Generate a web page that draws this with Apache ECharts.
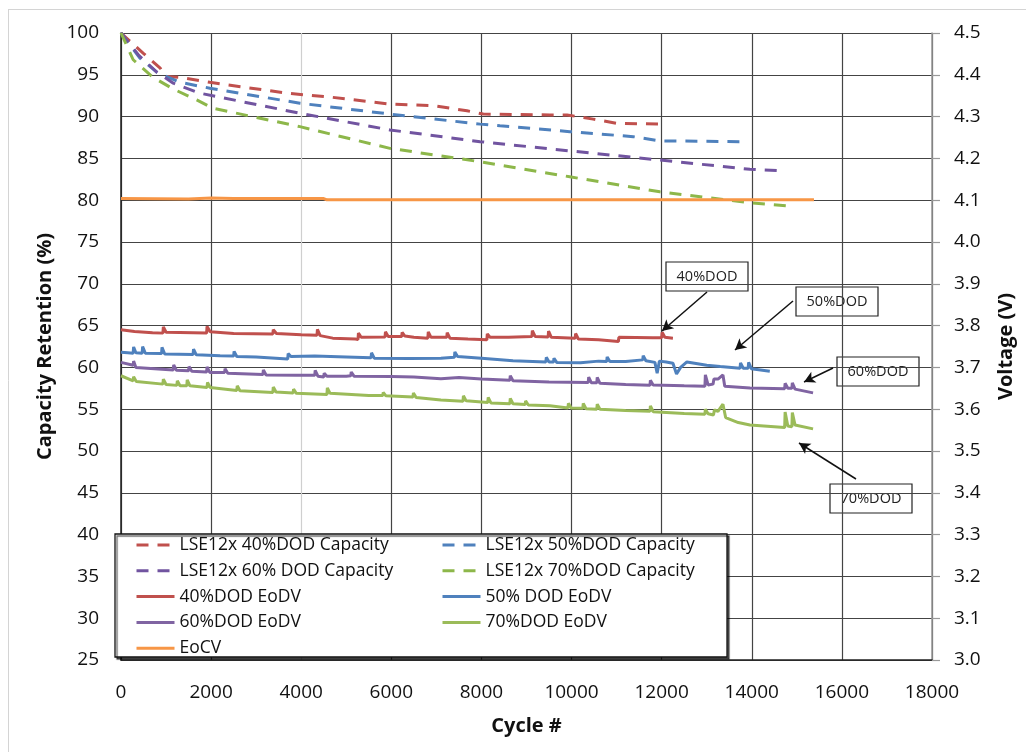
<!DOCTYPE html>
<html>
<head>
<meta charset="utf-8">
<script src="https://cdn.jsdelivr.net/npm/echarts@6/dist/echarts.min.js"></script>
<style>
  html, body { margin: 0; padding: 0; background: #fff; }
  #chart { width: 1026px; height: 752px; }
</style>
</head>
<body>
<div id="chart"></div>
<script>
// ---- data ----
// capacity retention (%), left axis
const cap40Cycles = [0, 490, 870, 1000, 1310, 1970, 3680, 4700, 5970, 6930, 7680, 8040, 9520, 9900, 10480, 11000, 12000];
const cap40Values = [100, 97.6, 95.8, 94.8, 94.7, 94.1, 92.8, 92.3, 91.5, 91.3, 90.7, 90.3, 90.2, 90.2, 89.7, 89.2, 89.1];
const cap50Cycles = [0, 420, 800, 1310, 1970, 3970, 5970, 7970, 8410, 9960, 11370, 11960, 13800];
const cap50Values = [100, 97.0, 95.3, 94.1, 93.4, 91.6, 90.3, 89.1, 88.9, 88.2, 87.6, 87.1, 87.0];
const cap60Cycles = [0, 400, 800, 1160, 1750, 3970, 5970, 7970, 9960, 11960, 13960, 14730];
const cap60Values = [100, 97.3, 95.3, 94.0, 92.8, 90.4, 88.4, 87.0, 85.9, 84.8, 83.7, 83.5];
const cap70Cycles = [0, 270, 710, 1160, 1680, 2040, 3970, 5970, 7970, 9960, 11960, 13960, 14850];
const cap70Values = [100, 96.8, 94.7, 93.3, 92.0, 91.0, 88.8, 86.2, 84.6, 82.8, 81.0, 79.7, 79.3];

// end of discharge / charge voltage (V), right axis
const eodv40Cycles = [0, 300, 700, 930, 940, 1000, 1900, 1910, 1980, 2500, 3370, 3380, 3450, 4000, 4350, 4360, 4420, 4700, 5200, 5260, 5270, 5330,
  5860, 5870, 5930, 6230, 6240, 6300, 6500, 6810, 6820, 6880, 7230, 7240, 7300, 7700, 8120, 8130, 8190, 8600, 9120, 9130, 9190,
  9480, 9490, 9550, 10080, 10090, 10150, 10600, 11040, 11050, 11800, 12000, 12010, 12070, 12250];
const eodv40Values = [3.790, 3.786, 3.783, 3.782, 3.797, 3.784, 3.782, 3.798, 3.785, 3.781, 3.780, 3.790, 3.781, 3.778, 3.777, 3.791, 3.776, 3.770, 3.768, 3.767, 3.782, 3.772,
  3.773, 3.785, 3.774, 3.774, 3.784, 3.775, 3.772, 3.770, 3.785, 3.772, 3.772, 3.783, 3.770, 3.768, 3.766, 3.780, 3.772, 3.772, 3.774, 3.788, 3.774,
  3.773, 3.787, 3.772, 3.770, 3.781, 3.768, 3.766, 3.762, 3.772, 3.771, 3.771, 3.784, 3.772, 3.770];

const eodv50Cycles = [0, 150, 270, 280, 330, 470, 480, 540, 900, 910, 970, 1600, 1610, 1670, 2200, 2500, 2510, 2570, 3000, 3700, 3710, 3770,
  4300, 5000, 5550, 5560, 5620, 6400, 7100, 7400, 7410, 7470, 8000, 8700, 9430, 9440, 9500, 9600, 9610, 9670, 10200, 10600,
  10780, 10790, 10850, 11200, 11580, 11590, 11650, 11850, 11900, 11950, 12100, 12250, 12330, 12420, 12560, 13000, 13300, 13740, 13750, 13810,
  13920, 13930, 13990, 14400];
const eodv50Values = [3.736, 3.735, 3.734, 3.749, 3.735, 3.734, 3.750, 3.734, 3.733, 3.748, 3.732, 3.731, 3.744, 3.730, 3.728, 3.727, 3.738, 3.726, 3.725, 3.720, 3.733, 3.726,
  3.727, 3.725, 3.723, 3.735, 3.722, 3.721, 3.722, 3.724, 3.737, 3.726, 3.722, 3.716, 3.713, 3.724, 3.713, 3.713, 3.722, 3.712, 3.711, 3.715,
  3.714, 3.725, 3.714, 3.714, 3.718, 3.728, 3.716, 3.712, 3.686, 3.715, 3.713, 3.710, 3.684, 3.700, 3.713, 3.705, 3.702, 3.698, 3.711, 3.698,
  3.698, 3.712, 3.697, 3.691];

const eodv60Cycles = [0, 270, 280, 330, 1160, 1170, 1230, 1500, 1510, 1570, 1900, 1910, 1970, 2300, 2310, 2370, 3150, 3160, 3220, 3900,
  4300, 4310, 4370, 4500, 4510, 4570, 5000, 5100, 5110, 5170, 6000, 6500, 7100, 7500, 8000, 8630, 8640, 8700, 9500,
  10370, 10380, 10440, 10560, 10570, 10630, 11200, 11740, 11750, 11810, 12500, 12960, 12970, 13030, 13140, 13160, 13250, 13360, 13400,
  13960, 14730, 14740, 14800, 14890, 14900, 14960, 15360];
const eodv60Values = [3.712, 3.705, 3.715, 3.700, 3.694, 3.706, 3.693, 3.692, 3.702, 3.691, 3.689, 3.701, 3.688, 3.688, 3.697, 3.686, 3.683, 3.694, 3.682, 3.681,
  3.681, 3.693, 3.679, 3.677, 3.686, 3.679, 3.679, 3.680, 3.689, 3.679, 3.678, 3.677, 3.673, 3.676, 3.672, 3.669, 3.680, 3.668, 3.665,
  3.664, 3.677, 3.663, 3.663, 3.676, 3.662, 3.659, 3.657, 3.669, 3.658, 3.656, 3.655, 3.682, 3.658, 3.660, 3.672, 3.672, 3.682, 3.655,
  3.651, 3.649, 3.662, 3.650, 3.650, 3.663, 3.648, 3.639];

const eodv70Cycles = [0, 270, 280, 340, 930, 940, 1000, 1240, 1250, 1310, 1460, 1470, 1530, 1910, 1920, 1980, 2570, 2580, 2640,
  3370, 3380, 3440, 3820, 3830, 3890, 4570, 4580, 4640, 5500, 5810, 5820, 5880, 6480, 6490, 6550, 7100, 7590, 7600, 7660,
  8140, 8150, 8210, 8630, 8640, 8700, 8970, 8980, 9040, 9520, 9920, 9930, 9990, 10250, 10260, 10320, 10560, 10570, 10630, 11200,
  11740, 11750, 11810, 12500, 12960, 12970, 13030, 13150, 13170, 13250, 13360, 13420, 13700, 13960, 14500, 14730, 14740, 14800,
  14890, 14900, 14960, 15360];
const eodv70Values = [3.680, 3.668, 3.678, 3.666, 3.660, 3.672, 3.659, 3.657, 3.668, 3.656, 3.656, 3.670, 3.656, 3.652, 3.664, 3.652, 3.645, 3.656, 3.644,
  3.640, 3.653, 3.641, 3.639, 3.648, 3.638, 3.635, 3.651, 3.638, 3.633, 3.633, 3.640, 3.632, 3.629, 3.639, 3.628, 3.622, 3.619, 3.632, 3.620,
  3.616, 3.628, 3.615, 3.613, 3.626, 3.613, 3.611, 3.620, 3.610, 3.608, 3.603, 3.614, 3.603, 3.602, 3.614, 3.601, 3.600, 3.612, 3.600, 3.597,
  3.595, 3.608, 3.594, 3.590, 3.588, 3.600, 3.589, 3.586, 3.598, 3.595, 3.612, 3.580, 3.568, 3.562, 3.558, 3.556, 3.593, 3.560,
  3.558, 3.592, 3.562, 3.553];

const eocvCycles = [0, 1500, 2000, 2500, 3000, 4500, 4570, 15380];
const eocvValues = [4.104, 4.103, 4.105, 4.104, 4.104, 4.104, 4.101, 4.101];

// tick settings
const xTicks = { min: 0, max: 18000, interval: 2000 };
const capTicks = { min: 25, max: 100, interval: 5 };
const voltTicks = { min: 3.0, max: 4.5, interval: 0.1 };

const FONT = '"Open Sans", "DejaVu Sans", sans-serif';

function pairs(xs, ys) {
  return xs.map((x, i) => [x, ys[i]]);
}

const chart = echarts.init(document.getElementById('chart'));

function capSeries(name, color, xs, ys) {
  return {
    name: name,
    type: 'line',
    yAxisIndex: 0,
    data: pairs(xs, ys),
    symbol: 'none',
    color: color,
    lineStyle: { width: 3, type: [12, 9], color: color },
    z: 3
  };
}

function voltSeries(name, color, xs, ys, width) {
  return {
    name: name,
    type: 'line',
    yAxisIndex: 1,
    data: pairs(xs, ys),
    symbol: 'none',
    color: color,
    lineStyle: { width: width || 3, color: color },
    z: 3
  };
}

// annotation boxes with arrows (pixel positions)
const notes = [
  { text: '40%DOD', x: 666, y: 262, from: [707, 292], to: [662, 331] },
  { text: '50%DOD', x: 796, y: 287, from: [793, 301], to: [735, 350] },
  { text: '60%DOD', x: 837, y: 357, from: [833, 368], to: [804, 382] },
  { text: '70%DOD', x: 830, y: 484, from: [856, 479], to: [799, 443] }
];

const legendText = { fontFamily: FONT, fontSize: 17.5, color: '#111', lineHeight: 20 };
const titleText = { fontFamily: FONT, fontSize: 20, fontWeight: 'bold', color: '#111' };
const tickText = { fontFamily: FONT, fontSize: 19, color: '#111' };

const option = {
  animation: false,
  backgroundColor: '#fff',
  grid: { left: 121, right: 94, top: 33, bottom: 92, containLabel: false },
  xAxis: {
    type: 'value',
    min: xTicks.min, max: xTicks.max, interval: xTicks.interval,
    name: 'Cycle #',
    nameLocation: 'middle',
    nameGap: 56,
    nameTextStyle: titleText,
    axisLine: { show: true, onZero: false, lineStyle: { color: '#222', width: 1.5 } },
    axisTick: { show: false },
    axisLabel: Object.assign({ margin: 23, formatter: v => String(v) }, tickText),
    splitLine: {
      show: true,
      lineStyle: { color: ['#444', '#444', '#cfcfcf', '#444', '#444', '#444', '#444', '#444', '#444', '#444'], width: 1.2 }
    }
  },
  yAxis: [
    {
      type: 'value',
      min: capTicks.min, max: capTicks.max, interval: capTicks.interval,
      name: 'Capacity Retention (%)',
      nameLocation: 'middle',
      nameGap: 65,
      nameRotate: 90,
      nameTextStyle: titleText,
      axisLine: { show: true, lineStyle: { color: '#222', width: 1.5 } },
      axisTick: { show: false },
      axisLabel: Object.assign({ margin: 22 }, tickText),
      splitLine: { show: true, lineStyle: { color: '#444', width: 1.2 } }
    },
    {
      type: 'value',
      position: 'right',
      min: voltTicks.min, max: voltTicks.max, interval: voltTicks.interval,
      name: 'Voltage (V)',
      nameLocation: 'middle',
      nameGap: 64,
      nameRotate: 90,
      nameTextStyle: titleText,
      axisLine: { show: true, lineStyle: { color: '#999', width: 1.5 } },
      axisTick: { show: true, length: 8, lineStyle: { color: '#999', width: 1.2 } },
      axisLabel: Object.assign({ margin: 22, formatter: v => v.toFixed(1) }, tickText),
      splitLine: { show: false }
    }
  ],
  legend: [
    {
      orient: 'vertical', left: 135, top: 535, padding: 0,
      itemWidth: 38, itemHeight: 14, itemGap: 5.8,
      itemStyle: { opacity: 0 },
      lineStyle: { width: 3 },
      textStyle: legendText,
      data: ['LSE12x 40%DOD Capacity', 'LSE12x 60% DOD Capacity', '40%DOD EoDV', '60%DOD EoDV', 'EoCV'],
      z: 10
    },
    {
      orient: 'vertical', left: 441, top: 535, padding: 0,
      itemWidth: 38, itemHeight: 14, itemGap: 5.8,
      itemStyle: { opacity: 0 },
      lineStyle: { width: 3 },
      textStyle: legendText,
      data: ['LSE12x 50%DOD Capacity', 'LSE12x 70%DOD Capacity', '50% DOD EoDV', '70%DOD EoDV'],
      z: 10
    }
  ],
  graphic: [
    // outer frame (top and left edges visible)
    { type: 'line', shape: { x1: 8, y1: 9.5, x2: 1026, y2: 9.5 }, style: { stroke: '#d4d4d4', lineWidth: 1 }, silent: true },
    { type: 'line', shape: { x1: 8.5, y1: 9, x2: 8.5, y2: 752 }, style: { stroke: '#d4d4d4', lineWidth: 1 }, silent: true },
    // legend frame
    {
      type: 'rect', z: 5,
      shape: { x: 115, y: 534, width: 612, height: 123 },
      style: { fill: '#fff', stroke: '#111', lineWidth: 1.3, shadowColor: 'rgba(0,0,0,0.6)', shadowOffsetX: 2, shadowOffsetY: 2, shadowBlur: 1 },
      silent: true
    }
  ].concat(notes.map(n => ({
    type: 'group', z: 6, silent: true,
    children: [
      { type: 'rect', shape: { x: n.x, y: n.y, width: 82, height: 29 }, style: { fill: '#fff', stroke: '#222', lineWidth: 1.2 } },
      { type: 'text', x: n.x + 41, y: n.y + 15, style: { text: n.text, fontFamily: FONT, fontSize: 14.5, fill: '#222', align: 'center', verticalAlign: 'middle' } }
    ]
  }))),
  series: [
    capSeries('LSE12x 40%DOD Capacity', '#C0504D', cap40Cycles, cap40Values),
    capSeries('LSE12x 50%DOD Capacity', '#4F81BD', cap50Cycles, cap50Values),
    capSeries('LSE12x 60% DOD Capacity', '#7154A0', cap60Cycles, cap60Values),
    capSeries('LSE12x 70%DOD Capacity', '#8DB74A', cap70Cycles, cap70Values),
    voltSeries('40%DOD EoDV', '#C0504D', eodv40Cycles, eodv40Values),
    voltSeries('50% DOD EoDV', '#4F81BD', eodv50Cycles, eodv50Values),
    voltSeries('60%DOD EoDV', '#8064A2', eodv60Cycles, eodv60Values),
    voltSeries('70%DOD EoDV', '#9BBB59', eodv70Cycles, eodv70Values),
    Object.assign(voltSeries('EoCV', '#F79646', eocvCycles, eocvValues, 3), {
      markLine: {
        silent: true,
        symbol: ['none', 'arrow'],
        symbolSize: [9, 11],
        label: { show: false },
        lineStyle: { color: '#111', width: 1.5, type: 'solid' },
        data: notes.map(n => [{ x: n.from[0], y: n.from[1] }, { x: n.to[0], y: n.to[1] }])
      }
    })
  ]
};

chart.setOption(option);
</script>
</body>
</html>
